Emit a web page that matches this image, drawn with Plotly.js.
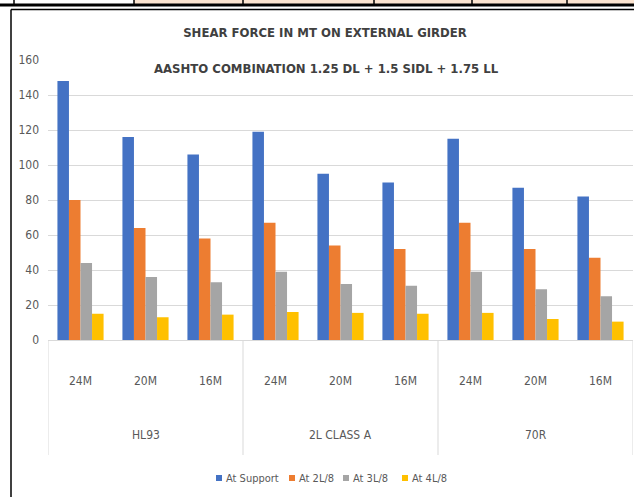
<!DOCTYPE html>
<html>
<head>
<meta charset="utf-8">
<script src="https://cdn.plot.ly/plotly-3.0.1.min.js"></script>
<style>html,body{margin:0;padding:0;background:#fff;}#chart{width:634px;height:497px;}</style>
</head>
<body>
<div id="chart"></div>
<script>
const groups = ["HL93", "2L CLASS A", "70R"];
const spans = ["24M", "20M", "16M", "24M", "20M", "16M", "24M", "20M", "16M"];
const seriesNames = ["At Support", "At 2L/8", "At 3L/8", "At 4L/8"];
const atSupport = [148, 116, 106, 119, 95, 90, 115, 87, 82];
const at2L8 = [80, 64, 58, 67, 54, 52, 67, 52, 47];
const at3L8 = [44, 36, 33, 39, 32, 31, 39, 29, 25];
const at4L8 = [15, 13, 14.5, 16, 15.5, 15, 15.5, 12, 10.5];
const yTicks = [0, 20, 40, 60, 80, 100, 120, 140, 160];

const colors = ["#4472C4", "#ED7D31", "#A5A5A5", "#FFC000"];
const FONT = "Liberation Sans Narrow, DejaVu Sans Condensed, Arial Narrow, sans-serif";

const W = 634, H = 497, L = 48, R = 633, T = 60, B = 340;
const px = x => (x - L) / (R - L);
const py = y => (B - y) / (B - T);

const idx = spans.map((_, i) => i);
const allSeries = [atSupport, at2L8, at3L8, at4L8];
const traces = allSeries.map((vals, k) => ({
  type: "bar",
  name: seriesNames[k],
  x: idx,
  y: vals,
  marker: {color: colors[k]},
  showlegend: false,
  hoverinfo: "y"
}));

const shapes = [];
// frame of chart box
shapes.push({type: "line", xref: "paper", yref: "paper", x0: px(11), x1: px(11), y0: py(9.5), y1: py(500), line: {color: "#000", width: 1.5}});
shapes.push({type: "line", xref: "paper", yref: "paper", x0: px(11), x1: px(640), y0: py(9.5), y1: py(9.5), line: {color: "#000", width: 1.5}});
// spreadsheet strip above
shapes.push({type: "rect", xref: "paper", yref: "paper", x0: px(134), x1: px(640), y0: py(-2), y1: py(4), fillcolor: "#FCE4D0", line: {width: 0}});
shapes.push({type: "line", xref: "paper", yref: "paper", x0: px(-5), x1: px(640), y0: py(5), y1: py(5), line: {color: "#000", width: 3}});
[14, 134, 243, 374, 472, 567].forEach(xv => shapes.push({type: "line", xref: "paper", yref: "paper", x0: px(xv), x1: px(xv), y0: py(-2), y1: py(4), line: {color: "#000", width: 1.5}}));
// category dividers
const nG = groups.length, per = spans.length / nG;
for (let g = 0; g <= nG; g++) {
  const xv = g * per - 0.5;
  shapes.push({type: "line", xref: "x", yref: "paper", x0: xv, x1: xv, y0: 0, y1: py(455), line: {color: "#D9D9D9", width: 1}});
}

const annotations = groups.map((g, i) => ({
  text: g, xref: "x", yref: "paper", x: i * per + (per - 1) / 2, y: py(435), showarrow: false,
  font: {family: FONT, size: 12, color: "#595959"}, xanchor: "center", yanchor: "middle"
}));
annotations.push({
  text: "AASHTO COMBINATION 1.25 DL + 1.5 SIDL + 1.75 LL", xref: "paper", yref: "paper",
  x: px(326), y: py(68), showarrow: false, bgcolor: "#fff", borderpad: 1,
  font: {family: FONT, size: 13, color: "#404040", weight: "bold"}, xanchor: "center", yanchor: "middle"
});

// legend (compact, Excel style): small squares + labels
const legendSquareX = [219, 292, 346, 405];
const legendY = 478;
seriesNames.forEach((name, k) => {
  const sx = legendSquareX[k];
  shapes.push({type: "rect", xref: "paper", yref: "paper", x0: px(sx - 3), x1: px(sx + 3), y0: py(legendY + 3), y1: py(legendY - 3), fillcolor: colors[k], line: {width: 0}});
  annotations.push({text: name, xref: "paper", yref: "paper", x: px(sx + 5), y: py(legendY), xanchor: "left", yanchor: "middle", showarrow: false,
    font: {family: FONT, size: 11, color: "#595959"}});
});

const layout = {
  width: W, height: H,
  margin: {l: L, r: W - R, t: T, b: H - B, pad: 0},
  paper_bgcolor: "#fff", plot_bgcolor: "#fff",
  title: {text: "<b>SHEAR FORCE IN MT ON EXTERNAL GIRDER</b>", xref: "container", x: 325 / W, xanchor: "center", y: 1 - 32 / H, yanchor: "middle",
    font: {family: FONT, size: 13, color: "#404040"}},
  barmode: "group", bargap: 0.29, bargroupgap: 0,
  showlegend: false,
  xaxis: {range: [-0.5, spans.length - 0.5], tickvals: idx, ticktext: spans, showgrid: false, zeroline: false, showline: true, linecolor: "#D9D9D9", ticks: "", ticklabelstandoff: 30,
    tickfont: {family: FONT, size: 12, color: "#595959"}, fixedrange: true},
  yaxis: {range: [0, 160], tickvals: yTicks, showgrid: true, gridcolor: "#D9D9D9", gridwidth: 1, zeroline: false, showline: false, ticks: "", ticklabelstandoff: 8,
    tickfont: {family: FONT, size: 12, color: "#595959"}, fixedrange: true},
  shapes: shapes,
  annotations: annotations
};

Plotly.newPlot("chart", traces, layout, {displayModeBar: false, staticPlot: true});
</script>
</body>
</html>
